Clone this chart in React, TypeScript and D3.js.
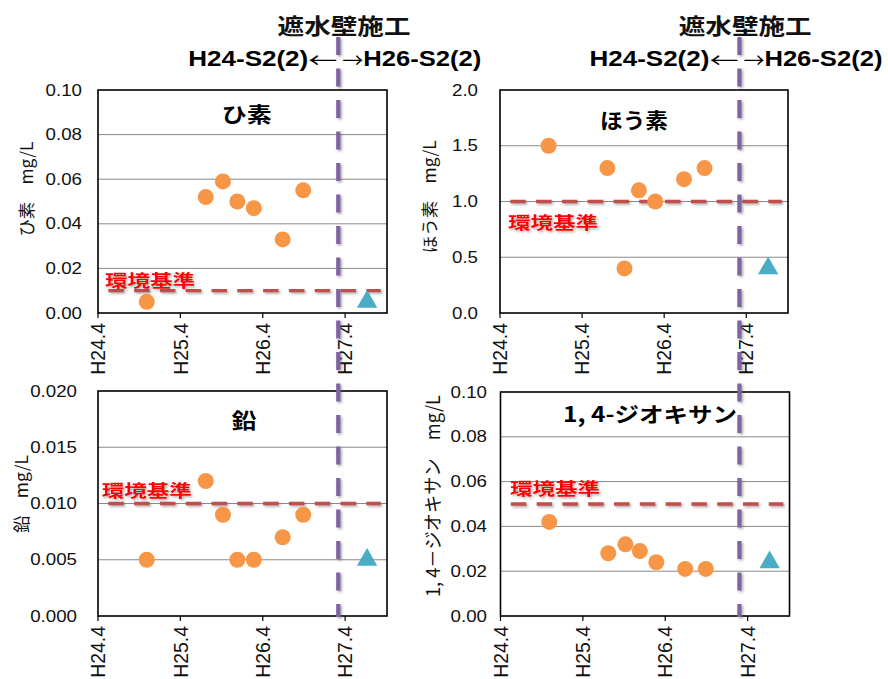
import React from 'react';
import * as d3 from 'd3';

// sampling dates as months counted from H24.4
const sampleMonths = [7.1, 15.7, 18.2, 20.3, 22.7, 26.9, 29.9];
const afterMonth = 39.2;
const wallMonth = 35;
const stdFrom = 1.5;
const stdTo = 41.2;
const xTickMonths = [0, 12, 24, 36];
const xTickLabels = ['H24.4', 'H25.4', 'H26.4', 'H27.4'];

const arsenic = [0.005, 0.052, 0.059, 0.05, 0.047, 0.033, 0.055];
const boron = [1.5, 1.3, 0.4, 1.1, 1.0, 1.2, 1.3];
const lead = [0.005, 0.012, 0.009, 0.005, 0.005, 0.007, 0.009];
const dioxane = [0.042, 0.028, 0.032, 0.029, 0.024, 0.021, 0.021];
const afterValues = [0.005, 0.4, 0.005, 0.024];
const standards = [0.01, 1.0, 0.01, 0.05];

const titles = ['ひ素', 'ほう素', '鉛', '1, 4-ジオキサン'];
const axisTitles = ['ひ素　mg/L', 'ほう素　mg/L', '鉛　mg/L', '1, 4－ジオキサン　mg/L'];
const yMax = [0.1, 2.0, 0.02, 0.1];
const yStep = [0.02, 0.5, 0.005, 0.02];
const yDecimals = [2, 1, 3, 2];
const series = [arsenic, boron, lead, dioxane];

const stdLabel = '環境基準';
const wallLabel = '遮水壁施工';
const beforeLabel = 'H24-S2(2)';
const afterLabel = 'H26-S2(2)';

// where each panel sits
const layout = [
  { x: 98, y: 90, w: 289, h: 223, tickRight: 82, axX: 25, axY: 189, axLen: 95, axFs: 17, tX: 246.7, tY: 112.5, tLen: 50, sX: 105, sY: 279 },
  { x: 500, y: 90, w: 288, h: 223, tickRight: 478, axX: 428, axY: 196.7, axLen: 113, axFs: 17, tX: 634, tY: 118.6, tLen: 68, sX: 508, sY: 221.7 },
  { x: 98, y: 391, w: 289, h: 225, tickRight: 77, axX: 20, axY: 494, axLen: 78, axFs: 17, tX: 244, tY: 419, tLen: 25, sX: 101.7, sY: 489 },
  { x: 500.5, y: 392, w: 289, h: 224, tickRight: 487, axX: 431, axY: 496, axLen: 202, axFs: 19, tX: 650, tY: 413, tLen: 174, sX: 510, sY: 487.5 },
];

const LATIN = '"Liberation Sans", Arial, sans-serif';
const CJK = '"Noto Sans CJK JP", "Noto Sans", sans-serif';

const triangle = d3.symbol(d3.symbolTriangle, 180)();

const Panel = ({ i }: { i: number }) => {
  const p = layout[i];
  const x = d3.scaleLinear().domain([0, 42.1]).range([p.x, p.x + p.w]);
  const y = d3.scaleLinear().domain([0, yMax[i]]).range([p.y + p.h, p.y]);
  const ticks = d3.range(0, yMax[i] + yStep[i] / 2, yStep[i]);
  const fmt = d3.format(`.${yDecimals[i]}f`);
  const line = d3.line<number>().x(d => x(d)).y(() => y(standards[i]));

  return (
    <g>
      {/* gridlines */}
      {ticks.slice(1, -1).map(t => (
        <line key={t} x1={p.x} x2={p.x + p.w} y1={y(t)} y2={y(t)} stroke="#8a8a8a" strokeWidth={1} />
      ))}
      <rect x={p.x} y={p.y} width={p.w} height={p.h} fill="none" stroke="#000" strokeWidth={1.6} />
      {/* y tick labels */}
      {ticks.map(t => (
        <text key={t} transform={`translate(${p.tickRight},${y(t)}) scale(1.17,1)`} textAnchor="end" dy="0.35em"
          fontFamily={LATIN} fontSize={16} fill="#111">{fmt(t)}</text>
      ))}
      {/* x ticks */}
      {xTickMonths.map((m, k) => (
        <g key={m}>
          <line x1={x(m)} x2={x(m)} y1={p.y + p.h} y2={p.y + p.h + 5} stroke="#000" strokeWidth={1.2} />
          <text transform={`translate(${x(m)},${p.y + p.h + 10}) rotate(-90) scale(1.14,1.2)`} textAnchor="end" dy="0.35em"
            fontFamily={LATIN} fontSize={17} fill="#111">{xTickLabels[k]}</text>
        </g>
      ))}
      {/* axis title */}
      <text transform={`translate(${p.axX},${p.axY}) rotate(-90)`} textAnchor="middle" dominantBaseline="central"
        fontFamily={CJK} fontSize={p.axFs} fill="#111" textLength={p.axLen} lengthAdjust="spacingAndGlyphs">{axisTitles[i]}</text>
      {/* panel title */}
      <text x={p.tX} y={p.tY} textAnchor="middle" dominantBaseline="central" fontFamily={CJK} fontWeight="bold"
        fontSize={21} fill="#000" textLength={p.tLen} lengthAdjust="spacingAndGlyphs">{titles[i]}</text>
      {/* environmental standard */}
      <path d={line([stdFrom, stdTo]) || ''} stroke="#C0504D" strokeWidth={3.3} strokeDasharray="15.5,10.3" fill="none"
        filter="url(#shadow)" />
      <text x={p.sX} y={p.sY} dominantBaseline="central" fontFamily={CJK} fontWeight="bold" fontSize={17} fill="#FF0000"
        textLength={90} lengthAdjust="spacingAndGlyphs" filter="url(#shadow)">{stdLabel}</text>
      {/* samples */}
      {series[i].map((v, k) => (
        <circle key={k} cx={x(sampleMonths[k])} cy={y(v)} r={8} fill="#F79646" />
      ))}
      <path d={triangle || ''} transform={`translate(${x(afterMonth)},${y(afterValues[i])})`} fill="#4BACC6" />
    </g>
  );
};

const Wall = ({ col }: { col: number }) => {
  const p = layout[col];
  const x = d3.scaleLinear().domain([0, 42.1]).range([p.x, p.x + p.w]);
  const wx = x(wallMonth);
  return (
    <g>
      <line x1={wx} x2={wx} y1={37} y2={617} stroke="#8064A2" strokeWidth={4.2} strokeDasharray="18,13.5"
        filter="url(#shadow)" />
      <text x={wx + 5.8} y={24} textAnchor="middle" dominantBaseline="central" fontFamily={CJK} fontWeight="bold"
        fontSize={22} fill="#111" textLength={133} lengthAdjust="spacingAndGlyphs">{wallLabel}</text>
      <text x={wx - 30} y={58} textAnchor="end" dominantBaseline="central" fontFamily={LATIN} fontWeight="bold"
        fontSize={22} fill="#000" textLength={120} lengthAdjust="spacingAndGlyphs">{beforeLabel}</text>
      <text x={wx - 30} y={59} dominantBaseline="central" fontFamily={CJK} fontSize={20} fill="#000"
        textLength={29} lengthAdjust="spacingAndGlyphs">←</text>
      <text x={wx + 4} y={59} dominantBaseline="central" fontFamily={CJK} fontSize={20} fill="#000"
        textLength={21} lengthAdjust="spacingAndGlyphs">→</text>
      <text x={wx + 25} y={58} dominantBaseline="central" fontFamily={LATIN} fontWeight="bold"
        fontSize={22} fill="#000" textLength={118} lengthAdjust="spacingAndGlyphs">{afterLabel}</text>
    </g>
  );
};

const App = () => (
  <svg width={888} height={679} style={{ position: 'absolute', left: 0, top: 0, background: '#fff' }}>
    <defs>
      <filter id="shadow" filterUnits="userSpaceOnUse" x={0} y={0} width={888} height={679}>
        <feDropShadow dx={1.5} dy={1.5} stdDeviation={1} floodColor="#555" floodOpacity={0.5} />
      </filter>
    </defs>
    {layout.map((_, i) => <Panel key={i} i={i} />)}
    <Wall col={0} />
    <Wall col={1} />
  </svg>
);

export default App;
